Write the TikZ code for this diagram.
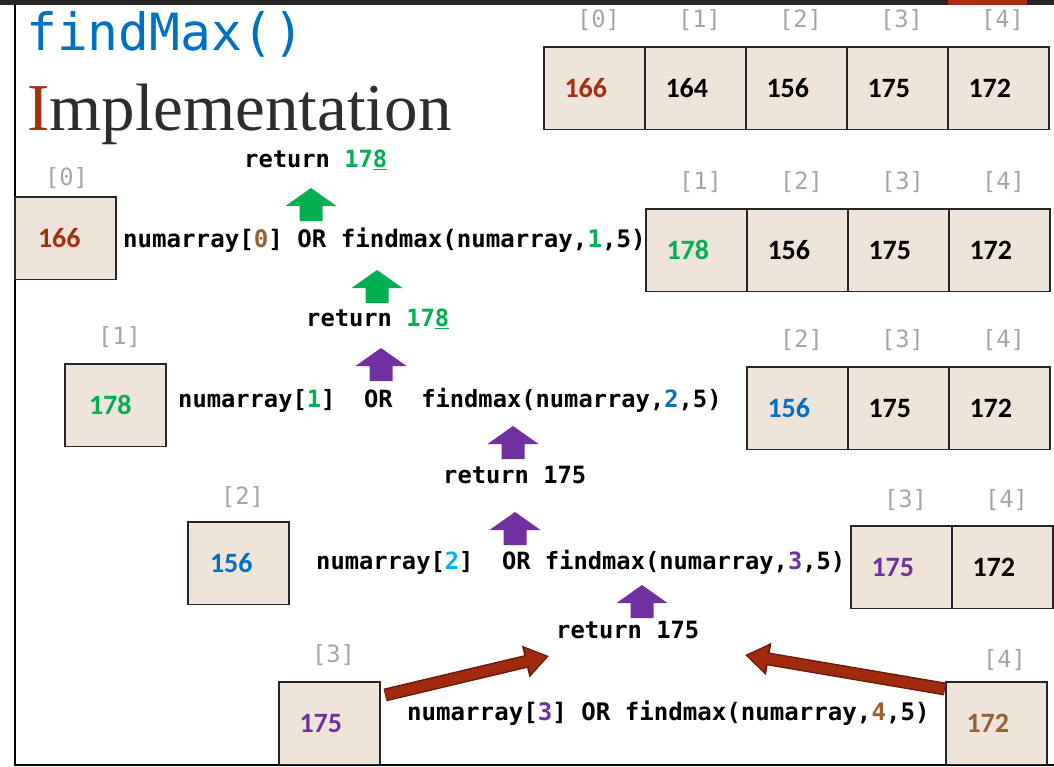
\documentclass[tikz,border=0pt]{standalone}
\usepackage{fontspec}
\usetikzlibrary{arrows.meta}
\newfontfamily\codefont{DejaVu Sans Mono}
\newfontfamily\numfont{Carlito}
\newfontfamily\titleserif{Liberation Serif}
\definecolor{cellfill}{RGB}{238,228,218}
\definecolor{grn}{RGB}{0,176,80}
\definecolor{blu}{RGB}{0,112,192}
\definecolor{cyn}{RGB}{0,176,240}
\definecolor{pur}{RGB}{112,48,160}
\definecolor{brn}{RGB}{150,98,52}
\definecolor{ired}{RGB}{166,46,18}
\definecolor{idxgray}{RGB}{165,165,165}
\definecolor{txtdark}{RGB}{45,45,45}
\definecolor{barcol}{RGB}{38,38,38}
\definecolor{arrowred}{RGB}{160,42,16}
\definecolor{arrowdark}{RGB}{105,26,8}
\begin{document}
\begin{tikzpicture}[x=1pt,y=-1pt,
  cell/.style={draw=black!85, line width=1.2pt, fill=cellfill, minimum height=82.5pt,
    text width=60pt, inner xsep=20.5pt, inner ysep=0pt, align=left, outer sep=0pt,
    anchor=north west, font=\numfont\bfseries\fontsize{28pt}{30pt}\selectfont},
  idx/.style={inner sep=0pt, text=idxgray, font=\codefont\fontsize{23.75pt}{28pt}\selectfont},
  code/.style={inner sep=0pt, anchor=base west, font=\codefont\bfseries\fontsize{23.75pt}{28pt}\selectfont},
  codewide/.style={code, font=\codefont\bfseries\fontsize{24.1pt}{28pt}\selectfont},
  uparrow/.pic={\fill[pic actions] (0,0) -- (25.5,18) -- (11.5,18) -- (11.5,33) -- (-11.5,33) -- (-11.5,18) -- (-25.5,18) -- cycle;},
  arrowout/.style={draw=arrowdark, line width=13pt, -{Triangle[width=31pt,length=24pt]}},
  arrowin/.style={draw=arrowred, line width=10pt, shorten >=2.5pt, -{Triangle[width=25.5pt,length=19.5pt]}}
]
\useasboundingbox (0,0) rectangle (1054,766);
% top bar and frame
\fill[barcol] (0,0) rectangle (1054,4.5);
\fill[ired] (948,0) rectangle (1027,4.5);
\draw[line width=1.5pt, black] (15,4) -- (15,765) -- (1054,765);

% titles
\node[inner sep=0pt, anchor=base west, text=blu, font=\codefont\fontsize{51.3pt}{56pt}\selectfont] (title) at (26,50) {findMax()};
\node[inner sep=0pt, anchor=base west, text=txtdark, font=\titleserif\fontsize{67pt}{72pt}\selectfont] (impl) at (27,130) {\textcolor{ired}{I}mplementation};

% top array
\node[cell] (a00) at (544,47) {\textcolor{ired}{166}};
\node[cell] (a01) at (645,47) {164};
\node[cell] (a02) at (746,47) {156};
\node[cell] (a03) at (847,47) {175};
\node[cell] (a04) at (948,47) {172};
\node[idx] at ([shift={(4,-27)}]a00.north) {[0]};
\node[idx] at ([shift={(4,-27)}]a01.north) {[1]};
\node[idx] at ([shift={(4,-27)}]a02.north) {[2]};
\node[idx] at ([shift={(4,-27)}]a03.north) {[3]};
\node[idx] at ([shift={(4,-27)}]a04.north) {[4]};

% level 1
\node[cell, inner xsep=23pt, text width=55pt] (b0) at (15,197) {\textcolor{ired}{166}};
\node[idx] at ([shift={(1,-19)}]b0.north) {[0]};
\node[cell] (a11) at (646,209) {\textcolor{grn}{178}};
\node[cell] (a12) at (747,209) {156};
\node[cell] (a13) at (848,209) {175};
\node[cell] (a14) at (949,209) {172};
\node[idx] at ([shift={(4,-27)}]a11.north) {[1]};
\node[idx] at ([shift={(4,-27)}]a12.north) {[2]};
\node[idx] at ([shift={(4,-27)}]a13.north) {[3]};
\node[idx] at ([shift={(4,-27)}]a14.north) {[4]};
\node[code] (r0) at (244,167) {return \textcolor{grn}{17\underline{8}}};
\node[codewide] (t1) at (123,247) {numarray[\textcolor{brn}{0}] OR findmax(numarray,\textcolor{grn}{1},5)};
\pic[fill=grn] (g1) at (311,188) {uparrow};
\pic[fill=grn] (g2) at (377,270) {uparrow};

% level 2
\node[code] (r1) at (306,326) {return \textcolor{grn}{17\underline{8}}};
\pic[fill=pur] (p1) at (381,348) {uparrow};
\node[cell, inner xsep=24pt, text width=53pt] (b1) at (65,364) {\textcolor{grn}{178}};
\node[idx] at ([shift={(4,-27)}]b1.north) {[1]};
\node[code] (t2) at (178,407) {numarray[\textcolor{grn}{1}]~~OR~~findmax(numarray,\textcolor{blu}{2},5)};
\node[cell] (a22) at (747,367) {\textcolor{blu}{156}};
\node[cell] (a23) at (848,367) {175};
\node[cell] (a24) at (949,367) {172};
\node[idx] at ([shift={(4,-27)}]a22.north) {[2]};
\node[idx] at ([shift={(4,-27)}]a23.north) {[3]};
\node[idx] at ([shift={(4,-27)}]a24.north) {[4]};
\pic[fill=pur] (p2) at (513,426) {uparrow};

% level 3
\node[code] (r2) at (443,483) {return 175};
\pic[fill=pur] (p3) at (515,512) {uparrow};
\node[cell, inner xsep=22pt, text width=57pt] (b2) at (188,522) {\textcolor{blu}{156}};
\node[idx] at ([shift={(4,-25)}]b2.north) {[2]};
\node[code] (t3) at (316,569) {numarray[\textcolor{cyn}{2}]~~OR findmax(numarray,\textcolor{pur}{3},5)};
\node[cell] (a33) at (851,526) {\textcolor{pur}{175}};
\node[cell] (a34) at (952,526) {172};
\node[idx] at ([shift={(4,-26)}]a33.north) {[3]};
\node[idx] at ([shift={(4,-26)}]a34.north) {[4]};
\pic[fill=pur] (p4) at (642,585) {uparrow};

% level 4
\node[code] (r3) at (556,638) {return 175};
\node[cell] (b3) at (279,682) {\textcolor{pur}{175}};
\node[idx] at ([shift={(4,-27)}]b3.north) {[3]};
\node[cell] (b4) at (946,682) {\textcolor{brn}{172}};
\node[idx] at ([shift={(8,-22)}]b4.north) {[4]};
\node[codewide] (t4) at (407,720) {numarray[\textcolor{pur}{3}] OR findmax(numarray,\textcolor{brn}{4},5)};

% red arrows
\coordinate (tipL) at (549,656);
\coordinate (tipR) at (745,655);
\draw[arrowout] ([shift={(5,13)}]b3.north east) -- (tipL);
\draw[arrowin] ([shift={(5.5,13)}]b3.north east) -- (tipL);
\draw[arrowout] ([shift={(-1,7)}]b4.north west) -- (tipR);
\draw[arrowin] ([shift={(-1.5,7)}]b4.north west) -- (tipR);
\end{tikzpicture}
\end{document}
